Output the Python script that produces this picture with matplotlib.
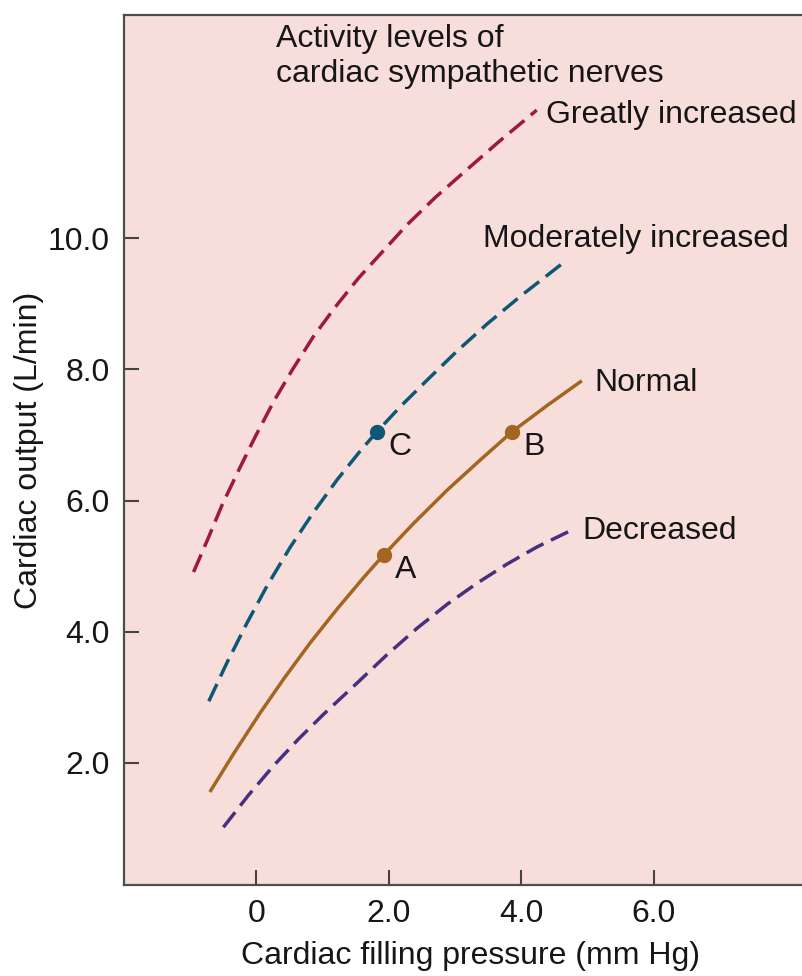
import matplotlib
matplotlib.use("Agg")
import matplotlib.pyplot as plt

plt.rcParams['font.family'] = ['Liberation Sans', 'DejaVu Sans']

# curves (filling pressure mm Hg, cardiac output L/min)
greatly_x = [-0.95, -0.74, -0.52, -0.27, -0.02, 0.26, 0.54, 0.86, 1.19, 1.54, 1.90,
             2.27, 2.70, 3.15, 3.66, 4.23]
greatly_y = [4.91, 5.40, 5.93, 6.46, 6.97, 7.51, 7.99, 8.50, 8.95, 9.39, 9.79,
             10.20, 10.62, 11.02, 11.47, 11.95]

moderate_x = [-0.72, -0.44, -0.14, 0.16, 0.51, 0.86, 1.22, 1.57, 1.82, 2.17, 2.58,
              3.03, 3.48, 3.98, 4.69]
moderate_y = [2.94, 3.54, 4.14, 4.70, 5.29, 5.82, 6.32, 6.76, 7.05, 7.43, 7.84,
              8.28, 8.69, 9.11, 9.67]

normal_x = [-0.69, -0.34, 0.06, 0.41, 0.81, 1.22, 1.62, 1.92, 2.37, 2.88, 3.38,
            3.86, 4.39, 4.89]
normal_y = [1.58, 2.15, 2.77, 3.28, 3.83, 4.35, 4.83, 5.17, 5.65, 6.16, 6.62,
            7.05, 7.45, 7.81]

decreased_x = [-0.50, -0.12, 0.26, 0.63, 1.01, 1.52, 1.97, 2.42, 2.88, 3.33, 3.78,
               4.23, 4.76]
decreased_y = [1.02, 1.51, 1.96, 2.36, 2.74, 3.22, 3.65, 4.05, 4.42, 4.74, 5.03,
               5.29, 5.55]

# labelled operating points
point_names = ["A", "B", "C"]
point_x = [1.92, 3.86, 1.82]
point_y = [5.17, 7.05, 7.05]

xticks = [0, 2, 4, 6]
xtick_labels = ["0", "2.0", "4.0", "6.0"]
yticks = [2, 4, 6, 8, 10]
ytick_labels = ["2.0", "4.0", "6.0", "8.0", "10.0"]

BG = "#f8dedb"
C_GREAT = "#9e1840"
C_MOD = "#0d5874"
C_NORM = "#a3651f"
C_DEC = "#47307f"
TXT = "#161616"
FS = 23

fig = plt.figure(figsize=(8.03, 9.76), dpi=100)
ax = fig.add_axes([124 / 803, 1 - 885 / 976, 1 - 124 / 803, (885 - 15) / 976])
ax.set_facecolor(BG)
ax.set_xlim(-2.0, 8.25)
ax.set_ylim(0.14, 13.4)

dash = (5.5, 2.4)
lw = 2.5
ax.plot(greatly_x, greatly_y, color=C_GREAT, lw=lw, dashes=dash)
ax.plot(moderate_x, moderate_y, color=C_MOD, lw=lw, dashes=dash)
ax.plot(normal_x, normal_y, color=C_NORM, lw=lw)
ax.plot(decreased_x, decreased_y, color=C_DEC, lw=lw, dashes=dash)

pt_colors = [C_NORM, C_NORM, C_MOD]
for name, px, py, c in zip(point_names, point_x, point_y, pt_colors):
    ax.plot(px, py, "o", color=c, ms=10, zorder=5)
    ax.text(px + 0.17, py - 0.23, name, fontsize=FS, ha="left", va="center", color=TXT)

ax.text(0.30, 13.27, "Activity levels of\ncardiac sympathetic nerves", fontsize=FS,
        ha="left", va="top", linespacing=1.25, color=TXT)
ax.text(4.37, 11.87, "Greatly increased", fontsize=FS, ha="left", va="center", color=TXT)
ax.text(3.42, 9.99, "Moderately increased", fontsize=FS, ha="left", va="center", color=TXT)
ax.text(5.10, 7.79, "Normal", fontsize=FS, ha="left", va="center", color=TXT)
ax.text(4.92, 5.54, "Decreased", fontsize=FS, ha="left", va="center", color=TXT)

ax.set_xticks(xticks)
ax.set_xticklabels(xtick_labels)
ax.set_yticks(yticks)
ax.set_yticklabels(ytick_labels)
ax.tick_params(direction="in", length=11, width=1.5, color="#444444",
               labelsize=FS, pad=10, labelcolor=TXT)

for side in ["left", "bottom", "top"]:
    ax.spines[side].set_color("#4d4d4d")
    ax.spines[side].set_linewidth(1.6)
ax.spines["right"].set_visible(False)

ax.set_xlabel("Cardiac filling pressure (mm Hg)", fontsize=FS, labelpad=9, color=TXT)
ax.xaxis.label.set_x(0.51)
ax.set_ylabel("Cardiac output (L/min)", fontsize=FS, labelpad=3, color=TXT)

fig.savefig("out.png", dpi=100, facecolor="white")
